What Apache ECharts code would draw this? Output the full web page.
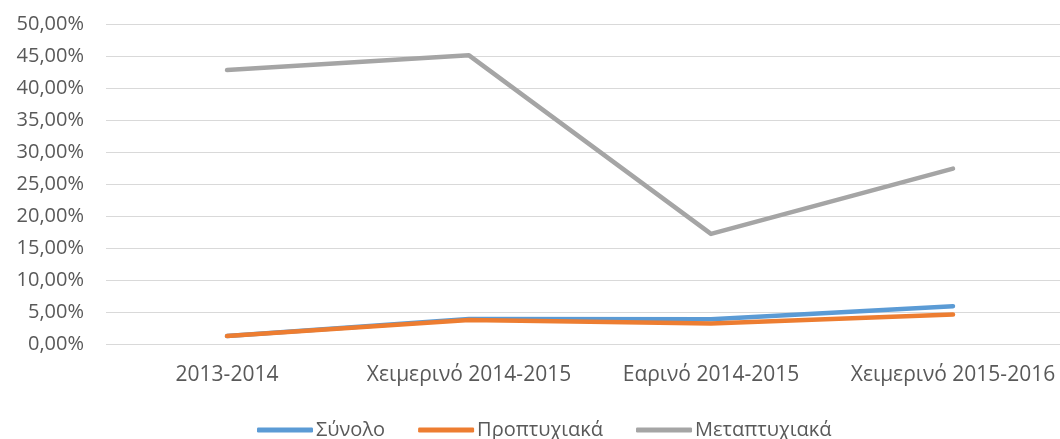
<!DOCTYPE html>
<html>
<head>
<meta charset="utf-8">
<script src="https://cdn.jsdelivr.net/npm/echarts@6/dist/echarts.min.js"></script>
<style>
html,body{margin:0;padding:0;background:#fff;overflow:hidden;}
#chart{width:1074px;height:439px;}
</style>
</head>
<body>
<div id="chart"></div>
<script>
const categories = ['2013-2014', 'Χειμερινό 2014-2015', 'Εαρινό 2014-2015', 'Χειμερινό 2015-2016'];
const seriesNames = ['Σύνολο', 'Προπτυχιακά', 'Μεταπτυχιακά'];
const total = [1.25, 3.9, 3.85, 5.9];
const undergrad = [1.25, 3.75, 3.2, 4.6];
const postgrad = [42.8, 45.1, 17.2, 27.4];
const yMin = 0, yMax = 50, yStep = 5;

const FONT = 'Open Sans';
const TXT = '#595959';
const colors = ['#5b9bd5', '#ed7d31', '#a5a5a5'];
const dataSets = [total, undergrad, postgrad];

const chart = echarts.init(document.getElementById('chart'), null, {renderer: 'canvas'});
chart.setOption({
  animation: false,
  textStyle: {fontFamily: FONT},
  grid: {left: 106, right: 0, top: 24, bottom: 95, containLabel: false},
  legend: {
    top: 415,
    left: 252,
    itemWidth: 56,
    itemHeight: 5,
    itemGap: 33,
    icon: 'roundRect',
    textStyle: {color: TXT, fontSize: 20, fontFamily: FONT, padding: [0, 0, 0, -2]},
    data: seriesNames
  },
  xAxis: {
    type: 'category',
    data: categories,
    boundaryGap: true,
    axisLine: {show: false},
    axisTick: {show: false},
    axisLabel: {color: TXT, fontSize: 21, margin: 21, fontFamily: FONT, interval: 0}
  },
  yAxis: {
    type: 'value',
    min: yMin, max: yMax, interval: yStep,
    axisLine: {show: false},
    axisTick: {show: false},
    splitLine: {lineStyle: {color: '#d9d9d9', width: 1}},
    axisLabel: {
      color: TXT, fontSize: 20, margin: 22, fontFamily: FONT,
      formatter: v => v.toFixed(2).replace('.', ',') + '%'
    }
  },
  series: seriesNames.map((n, i) => ({
    name: n,
    type: 'line',
    data: dataSets[i],
    symbol: 'none',
    smooth: false,
    itemStyle: {color: colors[i]},
    lineStyle: {color: colors[i], width: 4.5, cap: 'round', join: 'round'}
  }))
});
</script>
</body>
</html>
